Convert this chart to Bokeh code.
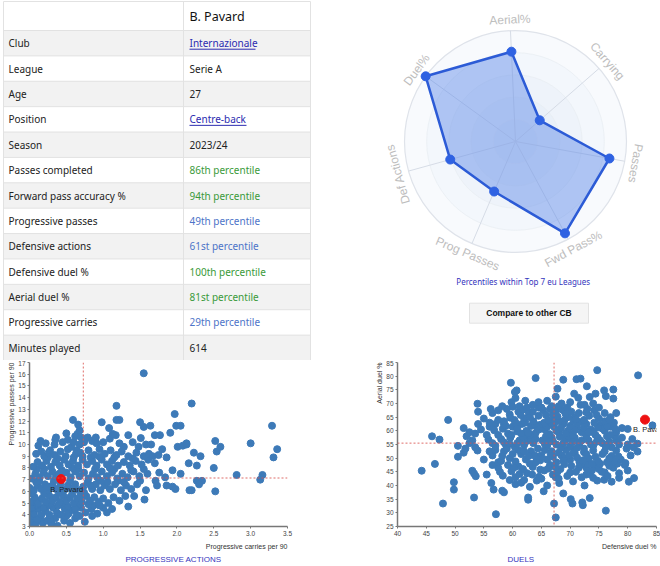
import math
from bokeh.plotting import figure
from bokeh.layouts import column, row
from bokeh.models import Range1d, Span, Title, FixedTicker, PrintfTickFormatter
from bokeh.embed import file_html
from bokeh.resources import INLINE
from bokeh.core.properties import value

# ---------------- data ----------------
player_name = "B. Pavard"
row_labels = ["Club", "League", "Age", "Position", "Season", "Passes completed",
              "Forward pass accuracy %", "Progressive passes", "Defensive actions",
              "Defensive duel %", "Aerial duel %", "Progressive carries", "Minutes played"]
row_values = ["Internazionale", "Serie A", "27", "Centre-back", "2023/24", "86th percentile",
              "94th percentile", "49th percentile", "61st percentile", "100th percentile",
              "81st percentile", "29th percentile", "614"]
row_kinds = ["link", "plain", "plain", "link", "plain", "high", "high", "mid", "mid",
             "high", "high", "mid", "plain"]

radar_axes = ["Aerial%", "Carrying", "Passes", "Fwd Pass%", "Prog Passes", "Def Actions", "Duel%"]
radar_pct = [81, 29, 86, 94, 49, 61, 100]
radar_note = "Percentiles within Top 7 eu Leagues"
button_text = "Compare to other CB"

# progressive carries per 90 (x) / progressive passes per 90 (y)
pa_points = [
    (0.0, 3.3), (0.05, 3.4), (0.11, 3.5), (0.08, 3.15), (0.18, 3.3), (0.24, 3.5), (0.3, 3.2),
    (0.38, 3.06), (0.47, 3.5), (0.55, 3.3), (0.75, 3.4), (0.62, 3.7), (0.15, 3.8), (0.35, 3.7), (0.02, 3.9),
    (0.1, 3.6), (0.28, 3.6), (0.5, 3.9), (0.68, 3.9), (0.85, 3.9), (1.05, 4.2),
    (0.0, 4.3), (0.06, 4.1), (0.12, 4.5), (0.16, 4.0), (0.22, 4.3), (0.27, 4.0), (0.32, 4.6), (0.37, 4.2),
    (0.43, 4.0), (0.48, 4.5), (0.53, 4.1), (0.58, 4.4), (0.64, 4.0), (0.7, 4.6), (0.76, 4.2), (0.84, 4.5),
    (0.92, 4.1), (1.0, 4.6), (0.08, 4.8), (0.25, 4.8), (0.45, 4.9), (0.66, 4.8), (1.12, 4.5), (1.34, 4.7), (0.87, 4.8),
    (0.03, 4.6), (0.1, 5.2), (0.19, 4.6), (0.29, 5.0), (0.39, 4.8), (0.52, 4.7), (0.62, 4.5), (0.69, 5.6),
    (0.8, 4.9), (0.95, 4.8),
    (0.02, 5.1), (0.07, 5.5), (0.12, 5.0), (0.17, 5.4), (0.22, 5.1), (0.27, 5.6), (0.31, 5.2), (0.36, 5.5),
    (0.41, 5.1), (0.46, 5.6), (0.5, 5.2), (0.55, 5.5), (0.6, 5.0), (0.65, 5.4), (0.71, 5.1), (0.77, 5.6),
    (0.82, 5.2), (0.88, 5.5), (0.94, 5.1), (1.0, 5.4), (1.07, 5.0), (1.14, 5.5), (1.22, 5.2), (1.3, 5.6),
    (1.56, 5.3), (1.42, 5.6), (0.04, 5.8), (0.2, 5.8), (0.4, 5.9), (0.58, 5.8), (0.74, 5.9),
    (0.0, 6.3), (0.06, 6.1), (0.11, 6.5), (0.16, 6.2), (0.21, 6.6), (0.26, 6.1), (0.31, 6.5), (0.36, 6.2),
    (0.47, 6.1), (0.52, 6.5), (0.57, 6.2), (0.62, 6.6), (0.67, 6.1), (0.73, 6.4), (0.79, 6.8), (0.85, 6.2),
    (0.9, 6.6), (0.96, 6.1), (1.02, 6.5), (1.09, 6.2), (1.16, 6.6), (1.24, 6.1), (1.31, 6.5), (1.38, 6.2),
    (1.46, 6.6), (1.58, 6.1), (1.73, 6.5), (1.71, 6.9), (1.86, 6.5), (1.94, 6.4), (1.98, 6.2), (2.17, 6.1),
    (2.2, 6.1), (2.52, 6.0), (0.13, 6.9), (0.33, 6.9), (0.55, 6.9), (0.97, 6.9), (1.2, 6.9),
    (0.09, 6.8), (0.24, 6.4), (0.42, 6.6), (0.6, 6.3), (0.83, 6.5), (1.06, 6.8), (1.28, 6.8), (1.5, 6.9),
    (0.03, 7.1), (0.08, 7.5), (0.14, 7.2), (0.19, 7.6), (0.25, 7.3), (0.31, 7.7), (0.36, 7.3), (0.5, 7.6),
    (0.56, 7.2), (0.62, 7.7), (0.68, 7.3), (0.74, 7.6), (0.8, 7.1), (0.86, 7.5), (0.92, 7.2), (0.98, 7.7),
    (1.05, 7.3), (1.12, 7.6), (1.19, 7.1), (1.26, 7.5), (1.33, 7.2), (1.41, 7.7), (1.49, 7.3), (1.6, 7.5),
    (1.76, 7.6), (1.84, 7.2), (2.05, 7.5), (2.27, 6.9), (2.34, 6.9), (2.3, 6.6), (2.81, 7.4), (3.16, 7.4),
    (3.13, 7.0), (1.94, 7.8), (0.44, 7.8), (0.2, 7.9), (0.66, 7.9), (1.15, 7.9),
    (0.1, 7.9), (0.4, 7.5), (0.58, 8.0), (0.89, 7.9), (1.09, 8.0), (1.38, 7.8), (1.55, 7.9),
    (0.05, 8.1), (0.11, 8.5), (0.17, 8.2), (0.23, 8.6), (0.29, 8.1), (0.35, 8.5), (0.41, 8.2), (0.47, 8.7),
    (0.53, 8.3), (0.59, 8.6), (0.66, 8.2), (0.72, 8.7), (0.78, 8.3), (0.85, 8.6), (0.91, 8.2), (0.98, 8.7),
    (1.05, 8.3), (1.12, 8.6), (1.2, 8.2), (1.28, 8.5), (1.36, 8.2), (1.44, 8.6), (1.52, 8.3), (1.61, 8.7),
    (1.7, 8.4), (2.16, 8.4), (2.27, 8.2), (2.5, 8.0), (0.25, 8.9), (0.6, 8.9), (0.95, 8.95),
    (0.2, 9.0), (0.38, 8.8), (0.64, 9.5), (0.83, 8.9), (1.15, 8.9), (1.4, 8.8),
    (0.09, 9.2), (0.12, 9.9), (0.16, 9.4), (0.26, 9.3), (0.28, 9.5), (0.34, 9.1), (0.42, 9.4), (0.49, 9.0),
    (0.52, 9.6), (0.57, 9.8), (0.63, 9.2), (0.69, 9.3), (0.72, 9.0), (0.8, 9.5), (0.88, 9.1), (0.95, 9.6),
    (1.02, 9.2), (1.1, 9.5), (1.18, 9.1), (1.25, 9.4), (1.34, 9.0), (1.45, 9.3), (1.55, 9.0), (1.62, 9.2),
    (1.67, 9.0), (1.75, 9.1), (1.86, 8.9), (2.01, 9.8), (2.08, 9.9), (2.13, 10.0), (2.23, 9.3), (2.32, 9.0),
    (2.54, 9.4), (2.59, 9.8), (3.31, 8.9), (3.36, 9.6), (1.8, 9.6),
    (0.15, 10.3), (0.52, 10.4), (0.74, 10.2), (1.28, 9.8), (1.48, 9.8),
    (0.22, 10.1), (0.35, 10.4), (0.34, 10.0), (0.45, 10.2), (0.6, 10.2), (0.68, 10.0), (0.79, 10.6),
    (0.85, 10.3), (0.91, 10.1), (1.0, 10.2), (1.09, 10.5), (1.17, 10.8), (1.22, 10.1), (1.34, 10.8),
    (1.4, 10.2), (1.51, 10.55), (1.58, 10.0), (1.65, 10.0), (1.7, 10.8), (1.77, 10.8), (2.13, 10.1),
    (2.52, 10.3), (3.0, 10.1), (0.36, 10.6), (0.62, 10.7), (0.65, 10.9), (0.7, 10.6), (0.5, 10.95),
    (1.91, 11.0), (0.9, 10.6),
    (0.59, 12.1), (0.66, 11.7), (0.68, 11.2), (0.98, 11.9), (1.08, 11.4), (1.13, 10.9), (1.18, 12.1),
    (1.22, 12.1), (1.18, 13.3), (1.5, 11.9), (1.55, 11.5), (1.64, 11.6), (1.99, 11.6), (2.05, 11.6),
    (1.97, 12.6), (2.2, 13.5), (1.55, 16.08), (3.29, 11.6), (0.75, 10.5),
]
pa_player = (0.43, 7.05)
pa_median_x = 0.73
pa_median_y = 7.14
pa_xticks = [0.0, 0.5, 1.0, 1.5, 2.0, 2.5, 3.0, 3.5]
pa_yticks = [3, 4, 5, 6, 7, 8, 9, 10, 11, 12, 13, 14, 15, 16, 17]

# defensive duel % (x) / aerial duel % (y)
du_points = [
    (57.1, 29.5), (67.5, 28.3), (76.2, 30.8), (47.9, 33.4), (67.2, 33.4), (70.4, 33.4), (72.2, 32.8),
    (53.3, 35.6), (62.7, 34.8), (70.1, 35.0), (73.4, 35.4), (72.1, 33.8), (62.7, 35.6),
    (49.8, 38.5), (49.8, 41.2), (56.3, 40.9), (56.7, 38.5), (58.2, 38.1), (60.5, 40.5), (61.5, 41.0),
    (64.2, 41.8), (65.4, 37.9), (68.8, 37.1), (68.1, 40.9), (66.0, 40.0), (63.0, 39.5), (70.5, 41.5),
    (74.7, 41.8), (75.9, 42.1), (77.2, 41.4), (80.2, 41.4), (81.1, 42.7), (59.5, 42.0), (72.5, 40.0),
    (58.5, 37.5),
    (62.0, 42.0), (65.0, 42.5), (67.5, 43.0), (70.0, 44.8), (72.8, 44.0), (76.0, 44.8), (78.5, 42.8),
    (44.2, 45.4), (46.5, 47.9), (53.0, 45.4), (53.3, 44.4), (53.6, 43.4), (55.5, 44.0), (57.5, 46.5),
    (58.3, 43.6), (59.8, 45.2), (61.0, 47.0), (62.5, 44.5), (63.5, 46.8), (64.6, 43.2), (65.5, 45.5),
    (66.5, 47.5), (67.0, 44.0), (68.3, 46.0), (69.5, 43.5), (70.2, 47.2), (71.0, 45.0), (72.0, 43.0),
    (72.8, 46.5), (73.5, 44.2), (74.5, 47.0), (75.5, 45.0), (76.5, 43.5), (77.5, 46.5), (78.5, 44.5),
    (79.5, 47.5), (80.0, 45.5), (60.5, 43.0), (56.5, 47.5), (74.0, 42.8), (68.0, 42.5),
    (57.8, 45.0), (59.2, 47.5), (61.8, 46.0), (63.0, 48.0), (64.8, 45.8), (66.2, 46.2), (67.8, 45.0),
    (69.0, 47.8), (71.5, 46.5), (73.0, 47.8), (75.0, 46.0), (76.8, 47.2), (78.2, 48.0),
    (60.2, 46.5), (61.2, 44.2), (63.4, 44.0), (67.4, 46.8), (71.8, 47.6), (73.8, 45.6), (75.2, 48.0),
    (50.5, 50.5), (51.5, 52.0), (53.9, 52.8), (55.0, 49.5), (56.5, 51.0), (57.5, 48.5), (58.5, 52.5),
    (59.5, 50.0), (60.5, 48.8), (61.5, 51.5), (62.3, 49.5), (63.2, 52.5), (64.0, 48.5), (65.0, 51.0),
    (66.0, 49.5), (66.8, 52.5), (67.6, 48.5), (68.5, 51.0), (69.3, 53.0), (70.0, 49.5), (70.8, 51.8),
    (71.6, 48.6), (72.4, 52.2), (73.2, 50.0), (74.0, 52.8), (74.8, 49.0), (75.6, 51.5), (76.4, 48.5),
    (77.2, 50.8), (78.0, 52.8), (78.8, 49.5), (79.6, 48.2), (80.5, 51.0), (81.7, 52.4), (61.0, 53.0),
    (57.0, 53.0), (64.5, 50.5), (69.0, 50.0), (73.8, 48.0),
    (58.0, 49.0), (60.0, 51.5), (62.0, 52.5), (63.8, 51.0), (65.6, 53.0), (67.0, 50.5), (68.0, 52.0),
    (69.8, 51.0), (71.2, 50.2), (72.8, 51.5), (74.4, 50.5), (76.0, 52.5), (77.6, 49.0),
    (56.0, 52.5), (58.2, 50.8), (62.8, 50.8), (64.8, 49.2), (66.6, 51.6), (68.8, 49.0), (70.6, 52.8),
    (72.2, 49.2), (76.8, 50.0), (78.4, 50.6), (79.8, 53.5),
    (46.0, 58.0), (47.3, 56.8), (50.5, 54.5), (51.8, 53.5), (52.5, 55.5), (53.5, 54.0), (55.8, 56.8),
    (57.0, 54.5), (58.0, 57.0), (58.8, 55.0), (59.6, 57.5), (60.4, 54.0), (61.2, 56.5), (62.0, 54.8),
    (62.8, 57.8), (63.6, 55.5), (64.4, 53.5), (65.2, 56.5), (66.0, 54.5), (66.8, 57.5), (67.6, 55.0),
    (68.4, 53.8), (69.2, 56.8), (70.0, 54.5), (70.8, 57.5), (71.6, 55.5), (72.4, 53.5), (73.2, 56.5),
    (74.0, 54.5), (74.8, 57.5), (75.6, 55.5), (76.4, 58.0), (77.2, 54.0), (78.0, 56.5), (79.0, 57.5),
    (80.0, 55.0), (81.0, 54.0), (81.7, 55.3), (80.8, 57.0), (59.0, 53.5), (65.8, 58.0),
    (58.5, 55.8), (60.8, 55.5), (62.5, 56.3), (64.0, 57.0), (65.6, 55.2), (67.0, 56.2), (68.8, 55.4),
    (70.4, 56.0), (72.0, 56.5), (73.6, 55.0), (75.2, 56.5), (76.8, 56.0), (78.5, 55.0),
    (56.5, 55.5), (59.5, 55.2), (61.8, 57.8), (63.2, 56.8), (66.4, 56.0), (68.2, 57.8), (69.8, 57.8),
    (71.2, 53.8), (72.8, 58.2), (74.6, 56.0), (76.2, 54.2), (77.8, 58.0),
    (55.5, 58.5), (54.0, 62.5), (53.0, 56.5), (52.0, 58.0),
    (51.5, 61.0), (52.5, 59.5), (53.5, 59.0), (54.5, 60.5), (56.0, 61.5), (57.0, 62.5), (58.3, 60.8),
    (59.2, 59.0), (60.0, 61.5), (60.8, 59.8), (61.6, 62.5), (62.4, 60.0), (63.2, 61.8), (64.0, 59.2),
    (64.8, 62.2), (65.6, 60.5), (66.4, 58.8), (67.2, 61.5), (68.0, 59.5), (68.8, 62.5), (69.6, 60.0),
    (70.4, 58.5), (71.2, 61.5), (72.0, 59.5), (72.8, 62.5), (73.6, 60.5), (74.4, 58.5), (75.2, 62.0),
    (76.0, 60.0), (77.0, 61.5), (78.0, 59.5), (80.0, 60.7), (57.5, 58.5),
    (59.8, 58.5), (61.5, 59.0), (63.0, 58.5), (64.6, 60.5), (66.0, 61.5), (67.6, 60.0), (69.2, 59.0),
    (70.8, 60.2), (72.4, 61.0), (74.0, 59.5), (75.6, 60.8), (77.0, 58.5), (79.0, 61.0),
    (56.8, 60.2), (58.8, 61.8), (60.8, 61.0), (62.8, 59.2), (64.2, 61.4), (66.8, 62.8), (68.4, 61.0),
    (70.0, 61.8), (71.6, 63.2), (73.2, 59.5), (74.8, 61.2), (76.4, 61.8), (77.8, 60.8),
    (58.5, 62.5), (60.5, 63.0), (62.2, 63.0), (63.8, 62.5), (65.5, 63.0), (67.2, 64.0), (69.0, 63.8),
    (70.8, 65.0), (72.5, 62.8), (74.2, 63.0), (76.0, 63.5), (77.6, 63.0),
    (48.8, 64.0), (55.0, 64.5), (56.5, 66.5), (57.5, 64.0), (58.5, 63.5), (59.5, 66.0), (60.3, 64.0),
    (61.0, 67.0), (62.0, 64.5), (62.8, 66.5), (63.6, 63.5), (64.5, 65.5), (65.3, 67.5), (66.2, 64.0),
    (67.0, 66.0), (68.0, 63.5), (68.8, 67.5), (69.6, 65.0), (70.6, 63.5), (71.5, 66.5), (72.4, 64.0),
    (73.3, 65.5), (74.2, 67.5), (75.0, 64.5), (76.0, 66.5), (77.0, 65.0), (78.0, 66.5), (66.5, 68.0),
    (54.0, 67.0),
    (59.6, 64.8), (61.4, 65.8), (63.0, 65.0), (65.8, 65.8), (67.8, 65.2), (69.2, 66.2), (71.0, 64.2),
    (72.8, 66.8), (74.6, 65.8), (76.8, 64.0), (56.0, 63.0),
    (59.0, 68.0), (61.8, 67.8), (63.5, 67.0), (64.5, 68.5), (67.6, 67.5), (70.2, 67.0), (71.8, 69.5),
    (73.0, 68.0), (62.5, 68.5), (68.0, 69.0), (70.0, 70.5), (58.2, 69.0),
    (53.9, 69.9), (56.2, 68.0), (57.5, 67.5), (59.8, 70.5), (60.5, 72.0), (61.2, 69.0), (62.2, 71.0),
    (63.5, 69.5), (64.5, 70.5), (66.0, 71.0), (66.8, 69.0), (67.5, 72.5), (68.5, 70.0), (69.5, 68.5),
    (70.7, 73.6), (71.4, 72.1), (72.5, 69.5), (73.4, 72.4), (74.0, 70.0), (75.0, 68.5), (76.2, 72.7),
    (77.5, 71.8), (60.0, 68.8), (65.0, 68.5),
    (74.7, 82.2), (81.8, 80.3), (64.0, 79.3), (59.7, 77.6), (68.8, 78.7), (71.1, 78.9), (71.8, 79.1),
    (72.9, 76.3), (75.9, 74.8), (77.5, 75.1), (67.8, 75.4), (60.7, 74.8), (60.4, 74.2), (74.4, 73.6),
    (84.3, 62.0),
]
du_player = (83.0, 64.1)
du_median_x = 67.2
du_median_y = 55.5
du_xticks = [40, 45, 50, 55, 60, 65, 70, 75, 80, 85]
du_yticks = [25, 30, 35, 40, 45, 50, 55, 60, 65, 70, 75, 80, 85]

# ---------------- styles ----------------
FONT = "Noto Sans"
AX_FONT = "Liberation Sans"
DOT = "#3d7ab8"
TITLE_BLUE = "#3434bd"
kind_color = {"link": "#2b2bb0", "plain": "#222222", "high": "#3a9a3a", "mid": "#4d74c8"}

# ---------------- top: table + radar ----------------
TOP_H = 360
top = figure(width=660, height=TOP_H, x_range=Range1d(0, 660), y_range=Range1d(-TOP_H, 0),
             output_backend="svg", toolbar_location=None, x_axis_location=None,
             y_axis_location=None, min_border=0)
top.grid.visible = False
top.outline_line_color = None

TX0, TX1, TDIV = 3, 310, 183
HDR_TOP, HDR_BOT, TBL_BOT = 1, 30, 360
n_rows = len(row_labels)
rh = (TBL_BOT - HDR_BOT) / n_rows
row_tops = [HDR_BOT + i * rh for i in range(n_rows)]
fills = ["#f2f2f2" if i % 2 == 0 else "#ffffff" for i in range(n_rows)]
top.quad(left=TX0, right=TX1, top=[-t for t in row_tops], bottom=[-(t + rh) for t in row_tops],
         fill_color=fills, line_color=None)
border_ys = [HDR_TOP, HDR_BOT] + [t + rh for t in row_tops]
top.segment(x0=TX0, x1=TX1, y0=[-y for y in border_ys], y1=[-y for y in border_ys],
            line_color="#e2e2e2", line_width=1)
top.segment(x0=[TX0, TDIV, TX1], x1=[TX0, TDIV, TX1], y0=-HDR_TOP, y1=-TBL_BOT,
            line_color="#e2e2e2", line_width=1)

mids = [-(t + rh / 2) for t in row_tops]
top.text(x=8, y=mids, text=row_labels, text_font=value(FONT), text_font_size="10px",
         text_color="#222222", text_baseline="middle", text_align="left")
top.text(x=189, y=mids, text=row_values, text_font=value(FONT), text_font_size="10px",
         text_color=[kind_color[k] for k in row_kinds], text_baseline="middle", text_align="left")
link_w = {"Internazionale": 66, "Centre-back": 57}
for v, k, m in zip(row_values, row_kinds, mids):
    if k == "link":
        top.segment(x0=189, x1=189 + link_w.get(v, 60), y0=m - 6, y1=m - 6,
                    line_color=kind_color["link"], line_width=1)
top.text(x=189, y=-16, text=[player_name], text_font=value(FONT), text_font_size="12.5px",
         text_color="#111111", text_baseline="middle", text_align="left")

# radar
CX, CY, R = 515, -141, 111
n_ax = len(radar_axes)
start_deg = 92.6
thetas = [math.radians(start_deg - i * 360.0 / n_ax) for i in range(n_ax)]
ring_fill = ["#f8fafd", "#f3f7fc", "#eef3fa", "#e9f0f9", "#e4ecf7"]
for k, c in enumerate(ring_fill):
    rr = R * (5 - k) / 5.0
    top.circle(x=[CX], y=[CY], radius=rr, fill_color=c,
               line_color="#dfe3ea" if k == 0 else "#e9edf3", line_width=1.2 if k == 0 else 0.8)
top.segment(x0=CX, y0=CY, x1=[CX + R * math.cos(t) for t in thetas],
            y1=[CY + R * math.sin(t) for t in thetas], line_color="#d6dce6", line_width=1)
px = [CX + R * v / 100.0 * math.cos(t) for v, t in zip(radar_pct, thetas)]
py = [CY + R * v / 100.0 * math.sin(t) for v, t in zip(radar_pct, thetas)]
top.patch(px + [px[0]], py + [py[0]], fill_color="#4f7fe8", fill_alpha=0.42,
          line_color="#2c5bd6", line_width=2.5)
top.scatter(px, py, size=9, color="#2f62e2")

LR = 122
lx, ly, lrot = [], [], []
for t in thetas:
    lx.append(CX + LR * math.cos(t))
    ly.append(CY + LR * math.sin(t))
    rot = math.degrees(t) - 90
    while rot <= -180:
        rot += 360
    while rot > 180:
        rot -= 360
    if abs(rot) > 120:
        rot = rot + 180 if rot < 0 else rot - 180
    lrot.append(math.radians(rot))
top.text(x=lx, y=ly, text=radar_axes, angle=lrot, text_font=value(AX_FONT), text_font_size="12px",
         text_color="#bdbdbd", text_align="center", text_baseline="middle")

top.text(x=[522.7], y=[-281], text=[radar_note], text_font=value(FONT), text_font_size="8px",
         text_color=TITLE_BLUE, text_align="center", text_baseline="middle")
top.rect(x=[528.5], y=[-312.7], width=119, height=20, fill_color="#f5f5f5", line_color="#e2e2e2")
top.text(x=[528.5], y=[-312.7], text=[button_text], text_font=value(AX_FONT), text_font_size="8.5px",
         text_font_style="bold", text_color="#111111", text_align="center", text_baseline="middle")


# ---------------- scatter plots ----------------
def style_axes(p):
    for ax in [p.xaxis[0], p.yaxis[0]]:
        ax.axis_line_color = "#777777"
        ax.axis_line_width = 1.5
        ax.major_tick_line_color = "#777777"
        ax.major_tick_out = 2
        ax.major_tick_in = 0
        ax.minor_tick_line_color = None
        ax.major_label_text_font_size = "6.5px"
        ax.major_label_text_color = "#444444"
        ax.major_label_text_font = AX_FONT
        ax.major_label_standoff = 2
    p.grid.visible = False
    p.outline_line_color = None


def add_titles(p, xlabel, ylabel, section, offset):
    p.add_layout(Title(text=ylabel, align="right", text_font_size="7px", text_font_style="normal",
                       text_color="#333333", text_font=AX_FONT, standoff=2), "left")
    p.add_layout(Title(text=xlabel, align="right", text_font_size="7px", text_font_style="normal",
                       text_color="#333333", text_font=AX_FONT, standoff=4), "below")
    p.add_layout(Title(text=section, align="left", text_font_size="8px", text_font_style="normal",
                       text_color=TITLE_BLUE, text_font=AX_FONT, standoff=3, offset=offset), "below")


BOT_H = 566 - TOP_H
left = figure(width=338, height=BOT_H, x_range=Range1d(0, 3.5), y_range=Range1d(3, 17),
              output_backend="svg", toolbar_location=None, min_border_left=29, min_border_right=51,
              min_border_top=2, min_border_bottom=40)
style_axes(left)
left.xaxis.ticker = FixedTicker(ticks=pa_xticks)
left.xaxis.formatter = PrintfTickFormatter(format="%.1f")
left.yaxis.ticker = FixedTicker(ticks=pa_yticks)
left.scatter([p[0] for p in pa_points], [p[1] for p in pa_points], size=7, color=DOT)
left.scatter([pa_player[0]], [pa_player[1]], size=9, color="#ee1111")
left.text(x=[pa_player[0]], y=[pa_player[1]], text=[player_name], x_offset=-11, y_offset=10,
          text_font=value(AX_FONT), text_font_size="7.5px", text_color="#222222",
          text_align="left", text_baseline="middle")
left.add_layout(Span(location=pa_median_x, dimension="height", line_color="#d9534f",
                     line_dash="2 2", line_width=1, line_alpha=0.85))
left.add_layout(Span(location=pa_median_y, dimension="width", line_color="#d9534f",
                     line_dash="2 2", line_width=1, line_alpha=0.85))
add_titles(left, "Progressive carries per 90", "Progressive passes per 90", "PROGRESSIVE ACTIONS", 96)

right = figure(width=322, height=BOT_H, x_range=Range1d(40, 85), y_range=Range1d(25, 85),
               output_backend="svg", toolbar_location=None, min_border_left=59, min_border_right=4,
               min_border_top=2, min_border_bottom=40)
style_axes(right)
right.xaxis.ticker = FixedTicker(ticks=du_xticks)
right.yaxis.ticker = FixedTicker(ticks=du_yticks)
right.scatter([p[0] for p in du_points], [p[1] for p in du_points], size=7, color=DOT)
right.scatter([du_player[0]], [du_player[1]], size=9, color="#ee1111")
right.text(x=[du_player[0]], y=[du_player[1]], text=[player_name], x_offset=-12, y_offset=10,
           text_font=value(AX_FONT), text_font_size="7.5px", text_color="#222222",
           text_align="left", text_baseline="middle")
right.add_layout(Span(location=du_median_x, dimension="height", line_color="#d9534f",
                      line_dash="2 2", line_width=1, line_alpha=0.85))
right.add_layout(Span(location=du_median_y, dimension="width", line_color="#d9534f",
                      line_dash="2 2", line_width=1, line_alpha=0.85))
add_titles(right, "Defensive duel %", "Aerial duel %", "DUELS", 110)

layout = column(top, row(left, right))
open("out.html", "w").write(file_html(layout, INLINE))
